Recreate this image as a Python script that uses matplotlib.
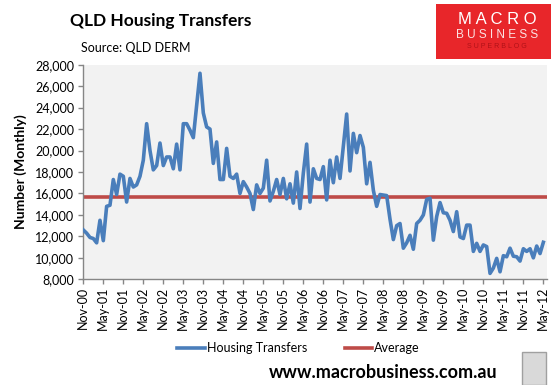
import matplotlib
matplotlib.use("Agg")
import matplotlib.pyplot as plt
from matplotlib.patches import Rectangle

# ---- data ----
transfers = [
    12600, 12300, 11900, 11800, 11400, 13500, 11600, 14800, 14900, 17300,
    15900, 17800, 17600, 15200, 17400, 16600, 16800, 17600, 19100, 22500,
    20000, 18200, 18600, 20700, 18600, 19400, 19400, 18300, 20600, 18200,
    22500, 22500, 21900, 21200, 24200, 27200, 23500, 22200, 22000, 18800,
    20800, 17300, 17300, 20200, 17600, 17400, 17800, 16000, 17100, 16600,
    16000, 14500, 16800, 16000, 16500, 19100, 15300, 16200, 17300, 15900,
    17400, 15500, 16900, 15100, 18000, 14600, 17900, 20600, 15200, 18300,
    17400, 17300, 18500, 15400, 19100, 17000, 19400, 17400, 20400, 23400,
    18100, 21600, 19800, 21400, 20300, 16900, 18900, 16300, 14800, 15900,
    15850, 15800, 13600, 11700, 13000, 13200, 10900, 11400, 12100, 10800,
    13200, 13500, 14000, 15450, 15550, 11650, 13850, 15150, 14200, 14150,
    13500, 12450, 14300, 11950, 11800, 13050, 13050, 10600, 11350, 10600,
    11200, 11050, 8550, 9050, 9950, 8700, 10200, 10100, 10900, 10150,
    10100, 9700, 10850, 10600, 10850, 10000, 11100, 10400, 11450,
]
average = 15650
tick_labels = [
    "Nov-00", "May-01", "Nov-01", "May-02", "Nov-02", "May-03", "Nov-03",
    "May-04", "Nov-04", "May-05", "Nov-05", "May-06", "Nov-06", "May-07",
    "Nov-07", "May-08", "Nov-08", "May-09", "Nov-09", "May-10", "Nov-10",
    "May-11", "Nov-11", "May-12",
]
y_ticks = [8000, 10000, 12000, 14000, 16000, 18000, 20000, 22000, 24000, 26000, 28000]

FONT = ["Lato", "DejaVu Sans"]
plt.rcParams["font.family"] = FONT

W, H = 557, 385
fig = plt.figure(figsize=(W / 100, H / 100), dpi=100)
fig.patch.set_facecolor("white")

L, R, T, B = 83.3, 546.7, 64.7, 279.3
ax = fig.add_axes([L / W, 1 - B / H, (R - L) / W, (B - T) / H])
ax.set_facecolor("#F2F2F2")

n = len(transfers)
xs = list(range(n))
ax.plot(xs, transfers, color="#4A7EBB", lw=2.6, solid_joinstyle="round",
        label="Housing Transfers", zorder=3)
ax.plot([0, 139], [average, average], color="#BE4B48", lw=2.6,
        label="Average", zorder=2)

ax.set_xlim(0, 139)
ax.set_ylim(8000, 28000)
ax.set_yticks(y_ticks)
ax.set_yticklabels([f"{v:,}" for v in y_ticks])
ax.set_xticks([6 * k for k in range(len(tick_labels))])
ax.set_xticklabels(tick_labels, rotation=90)

for s in ["top", "right"]:
    ax.spines[s].set_visible(False)
for s in ["left", "bottom"]:
    ax.spines[s].set_color("#868686")
    ax.spines[s].set_linewidth(1.0)
ax.tick_params(axis="both", direction="out", length=3.5, width=1.0,
               color="#868686", labelsize=9, labelcolor="black")
ax.tick_params(axis="x", pad=2)
ax.tick_params(axis="y", pad=3)

ax.set_ylabel("Number (Monthly)", fontsize=10, fontweight="bold", labelpad=6)

leg = fig.legend(loc="center", bbox_to_anchor=(298.5 / W, 1 - 348 / H), ncol=2,
                 frameon=False, fontsize=9, handlelength=2.2, handletextpad=0.15,
                 columnspacing=3.0, borderpad=0, borderaxespad=0)

# title texts
fig.text(70 / W, 1 - 21 / H, "QLD Housing Transfers", fontsize=12.5,
         fontweight="bold", va="center", ha="left")
fig.text(81 / W, 1 - 48 / H, "Source: QLD DERM", fontsize=9,
         va="center", ha="left")

# logo
logo = Rectangle((436 / W, 1 - 59 / H), (551 - 436) / W, (59 - 4) / H,
                 transform=fig.transFigure, facecolor="#E8262A", edgecolor="none")
fig.patches.append(logo)
fig.text(497 / W, 1 - 20 / H, "M A C R O", color="white", fontsize=12,
         ha="center", va="center", family=["Liberation Sans"])
fig.text(497 / W, 1 - 35 / H, "B U S I N E S S", color="#FBE3E3", fontsize=8.5,
         ha="center", va="center", family=["Liberation Sans"])
fig.text(497 / W, 1 - 46 / H, "S U P E R B L O G", color="#B01218", fontsize=5,
         ha="center", va="center", family=["Liberation Sans"])

# footer
fig.text(383 / W, 1 - 373 / H, "www.macrobusiness.com.au", fontsize=13,
         fontweight="bold", ha="center", va="center")
wolf = Rectangle((522 / W, 1 - 385 / H), 24 / W, 33 / H,
                 transform=fig.transFigure, facecolor="#D9D9D9",
                 edgecolor="#A0A0A0", lw=1)
fig.patches.append(wolf)

fig.savefig("out.png", dpi=100, facecolor="white")
